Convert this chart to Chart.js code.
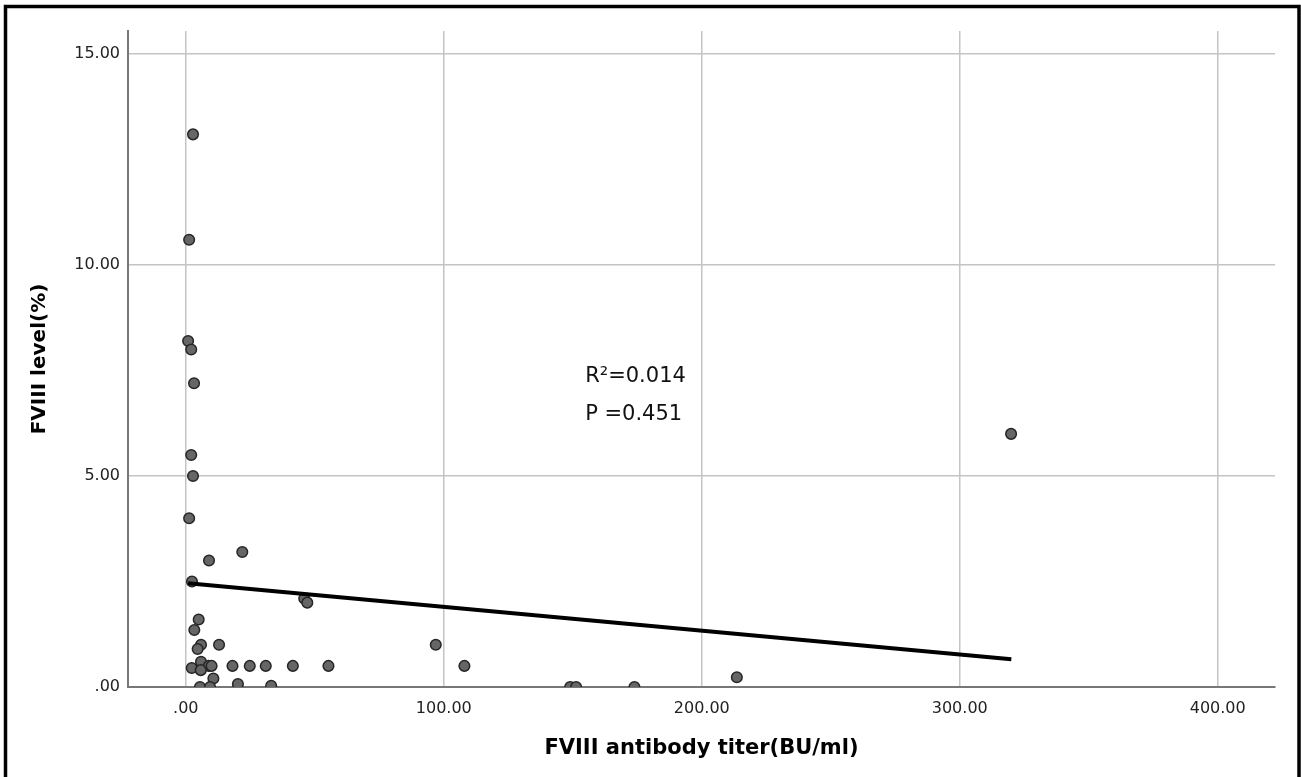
<!DOCTYPE html>
<html>
<head>
<meta charset="utf-8">
<title>FVIII level vs FVIII antibody titer</title>
<script src="https://cdn.jsdelivr.net/npm/chart.js@4.4.1/dist/chart.umd.min.js"></script>
<style>
  html, body { margin: 0; padding: 0; background: #fff; }
  #wrap { position: relative; width: 1301px; height: 777px; }
</style>
</head>
<body>
<div id="wrap"><canvas id="myChart"></canvas></div>
<script>
// data
const titerValues = [2.8, 1.3, 0.9, 2.1, 3.2, 2.1, 2.8, 1.3, 2.4, 9.0,
                     21.9, 45.9, 47.1, 5.0, 3.3, 5.9, 4.6, 12.9, 2.3, 5.9,
                     8.9, 10.0, 18.1, 24.8, 31.0, 41.5, 55.3, 5.8, 10.7, 5.5,
                     9.4, 20.2, 33.1, 96.9, 108.0, 149.0, 151.3, 173.9, 213.6, 319.9];
const levelValues = [13.1, 10.6, 8.2, 8.0, 7.2, 5.5, 5.0, 4.0, 2.5, 3.0,
                     3.2, 2.1, 2.0, 1.6, 1.35, 1.0, 0.9, 1.0, 0.45, 0.6,
                     0.5, 0.5, 0.5, 0.5, 0.5, 0.5, 0.5, 0.4, 0.2, 0.0,
                     0.0, 0.07, 0.03, 1.0, 0.5, 0.0, 0.0, 0.0, 0.23, 6.0];

// fitted line end points
const fitTiter = [0.9, 320];
const fitLevel = [2.46, 0.66];

const xTickValues = [0, 100, 200, 300, 400];
const xTickLabels = ['.00', '100.00', '200.00', '300.00', '400.00'];
const yTickValues = [0, 5, 10, 15];
const yTickLabels = ['.00', '5.00', '10.00', '15.00'];

const statLines = ['R\u00B2=0.014', 'P =0.451'];

const scatterPoints = titerValues.map((x, i) => ({ x: x, y: levelValues[i] }));
const fitPoints = fitTiter.map((x, i) => ({ x: x, y: fitLevel[i] }));

const framePlugin = {
    id: 'frame',
    beforeDraw(chart) {
        const c = chart.ctx;
        c.save();
        c.fillStyle = '#fff';
        c.fillRect(0, 0, chart.width, chart.height);
        c.restore();
    },
    afterDraw(chart) {
        const c = chart.ctx;
        const xs = chart.scales.x;
        const ys = chart.scales.y;
        c.save();
        // stats text
        c.fillStyle = '#111';
        c.font = '21px "DejaVu Sans"';
        c.textAlign = 'left';
        c.textBaseline = 'middle';
        c.fillText(statLines[0], xs.getPixelForValue(154.8), ys.getPixelForValue(7.35));
        c.fillText(statLines[1], xs.getPixelForValue(154.8), ys.getPixelForValue(6.47));
        // outer frame (bottom edge runs off the picture)
        c.strokeStyle = '#000';
        c.lineWidth = 3.5;
        c.strokeRect(5.5, 6.5, 1293.5, 820);
        c.restore();
    }
};

const ctx = document.getElementById('myChart').getContext('2d');
const myChart = new Chart(ctx, {
    type: 'scatter',
    data: {
        datasets: [{
            type: 'line',
            label: 'Fit',
            data: fitPoints,
            borderColor: '#000',
            borderWidth: 4,
            pointRadius: 0,
            fill: false,
            order: 0
        }, {
            label: 'Patients',
            data: scatterPoints,
            backgroundColor: '#666',
            borderColor: '#262626',
            borderWidth: 1.5,
            pointRadius: 5.3,
            clip: 0,
            order: 1
        }]
    },
    options: {
        responsive: true,
        maintainAspectRatio: false,
        animation: false,
        layout: { padding: { top: 31, right: 26, left: 0, bottom: 0 } },
        plugins: {
            legend: { display: false },
            tooltip: { enabled: false }
        },
        scales: {
            x: {
                type: 'linear',
                min: -22.4,
                max: 422.2,
                afterFit(scale) { scale.height = 90; },
                afterBuildTicks(scale) { scale.ticks = xTickValues.map(v => ({ value: v })); },
                ticks: {
                    padding: 12,
                    color: '#222',
                    font: { family: 'DejaVu Sans', size: 16 },
                    callback: (v) => xTickLabels[xTickValues.indexOf(v)]
                },
                grid: { color: '#c4c4c4', lineWidth: 1.5, drawTicks: false },
                border: { color: '#777', width: 2 },
                title: {
                    display: true,
                    text: 'FVIII antibody titer(BU/ml)',
                    color: '#000',
                    font: { family: 'DejaVu Sans', size: 21, weight: 'bold' },
                    padding: { top: 0, bottom: 16 }
                }
            },
            y: {
                type: 'linear',
                min: 0,
                max: 15.55,
                afterFit(scale) { scale.width = 128; },
                afterBuildTicks(scale) { scale.ticks = yTickValues.map(v => ({ value: v })); },
                ticks: {
                    padding: 8,
                    color: '#222',
                    font: { family: 'DejaVu Sans', size: 16 },
                    callback: (v) => yTickLabels[yTickValues.indexOf(v)]
                },
                grid: { color: '#c4c4c4', lineWidth: 1.5, drawTicks: false },
                border: { color: '#777', width: 2 },
                title: {
                    display: true,
                    text: 'FVIII level(%)',
                    color: '#000',
                    font: { family: 'DejaVu Sans', size: 20, weight: 'bold' },
                    padding: { top: 28, bottom: 0 }
                }
            }
        }
    },
    plugins: [framePlugin]
});
</script>
</body>
</html>
